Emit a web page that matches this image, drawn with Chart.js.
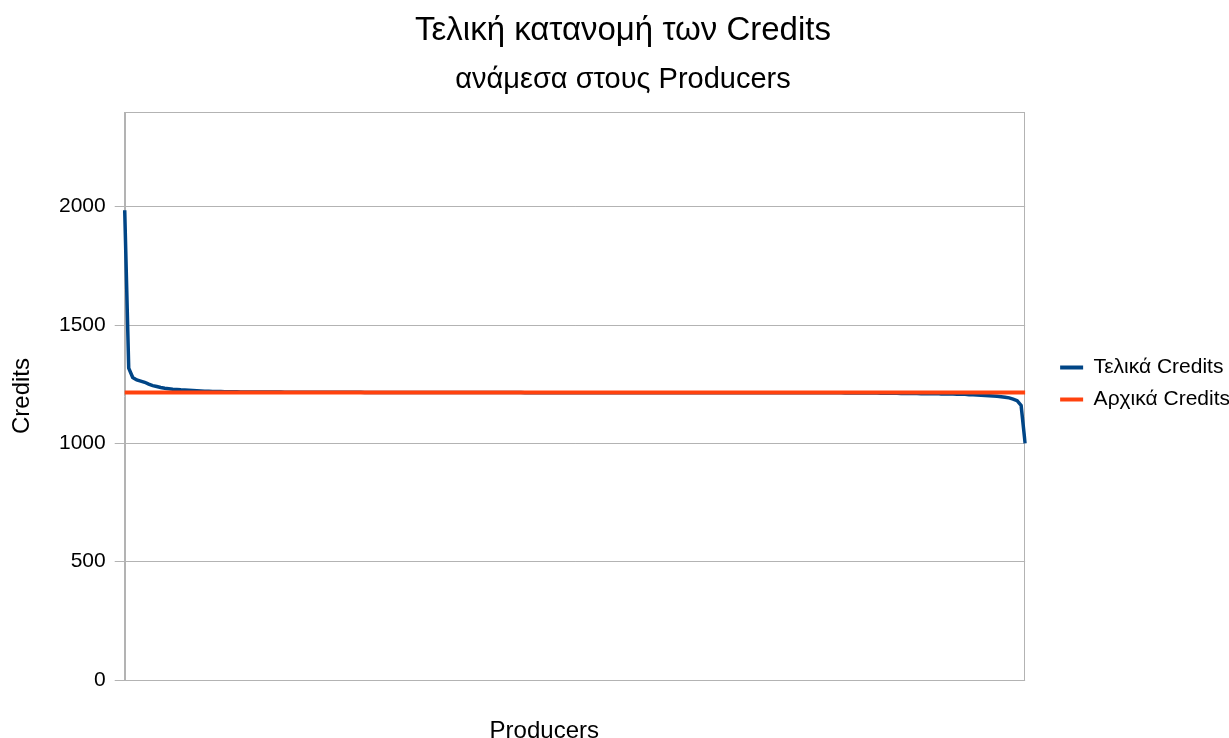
<!DOCTYPE html>
<html lang="el">
<head>
<meta charset="utf-8">
<title>Τελική κατανομή των Credits</title>
<script src="https://cdn.jsdelivr.net/npm/chart.js@4/dist/chart.umd.min.js"></script>
<style>
  html, body { margin: 0; padding: 0; background: #ffffff; }
  #wrap { width: 1229px; height: 738px; }
</style>
</head>
<body>
<div id="wrap"><canvas id="c" width="1229" height="738"></canvas></div>
<script>
// Credits held by each producer at the end of the run, sorted from richest to poorest
const finalCredits = [
  1985, 1318, 1278, 1268, 1263, 1258, 1250, 1244, 1240, 1236,
  1233, 1231, 1229, 1228, 1226, 1225, 1224, 1223, 1222, 1221,
  1220, 1220, 1219, 1219, 1219, 1218, 1218, 1218, 1218,
  1217, 1217, 1217, 1217, 1217, 1217, 1217, 1217, 1217, 1217, 1217,
  1216, 1216, 1216, 1216, 1216, 1216, 1216, 1216, 1216, 1216,
  1216, 1216, 1216, 1216, 1216, 1216, 1216, 1216, 1216, 1216,
  1215, 1215, 1215, 1215, 1215, 1215, 1215, 1215, 1215, 1215,
  1215, 1215, 1215, 1215, 1215, 1215, 1215, 1215, 1215, 1215,
  1215, 1215, 1215, 1215, 1215,
  1215, 1215, 1215, 1215, 1215, 1215, 1215, 1215, 1215, 1215,
  1215, 1215, 1215, 1215, 1215, 1214, 1214, 1214, 1214, 1214,
  1214, 1214, 1214, 1214, 1214, 1214, 1214, 1214, 1214, 1214,
  1214, 1214, 1214, 1214, 1214,
  1214, 1214, 1214, 1214, 1214, 1214, 1214, 1214, 1214, 1214,
  1214, 1214, 1214, 1214, 1214, 1214, 1214, 1214, 1214, 1214,
  1214, 1214, 1214, 1214, 1214, 1214, 1214, 1214, 1214, 1214,
  1214, 1214, 1214, 1214, 1214, 1214, 1214, 1214, 1214, 1214,
  1214, 1214, 1214, 1214, 1214, 1214, 1214, 1214, 1214, 1214,
  1214, 1214, 1214, 1214, 1214, 1214, 1214, 1214, 1214, 1214,
  1213, 1213, 1213, 1213, 1213, 1213, 1213, 1213, 1213,
  1212, 1212, 1212, 1212, 1212,
  1211, 1211, 1211, 1211, 1211,
  1210, 1210, 1210, 1210, 1210,
  1208, 1208, 1208, 1208,
  1207, 1207, 1207,
  1205, 1205,
  1204, 1203, 1202, 1201, 1200, 1199, 1197, 1195, 1192, 1187,
  1180, 1160, 1000
];

// Every producer started with the same amount
const initialCredits = 1215;

// Producer index along the horizontal axis
const producers = finalCredits.map((_, i) => i + 1);

// Values shown on the vertical axis
const yTicks = [0, 500, 1000, 1500, 2000];
const yMin = 0;
const yMax = 2400;

const xTitle = 'Producers';

const FONT = "'Liberation Sans', Arial, sans-serif";
const GRID = '#b3b3b3';

// Thin grey frame around the plot area
const plotFrame = {
  id: 'plotFrame',
  beforeDatasetsDraw(chart) {
    const { ctx, chartArea: a } = chart;
    ctx.save();
    ctx.strokeStyle = GRID;
    ctx.lineWidth = 1;
    ctx.strokeRect(Math.round(a.left) + 0.5, Math.round(a.top) + 0.5,
                   Math.round(a.right - a.left) - 1, Math.round(a.bottom - a.top));
    ctx.restore();
  }
};

// Horizontal axis caption, placed in the space kept free under the plot
const xCaption = {
  id: 'xCaption',
  afterDraw(chart) {
    const { ctx, chartArea: a } = chart;
    ctx.save();
    ctx.fillStyle = '#000';
    ctx.font = '24px ' + FONT;
    ctx.textAlign = 'center';
    ctx.textBaseline = 'middle';
    ctx.fillText(xTitle, a.left + (a.right - a.left) * 0.466, a.bottom + 51);
    ctx.restore();
  }
};

// Put the legend and the headings into place after layout
const placeBoxes = {
  id: 'placeBoxes',
  afterLayout(chart) {
    const lg = chart.legend;
    const a = chart.chartArea;
    if (lg) {
      const w = lg.width, h = lg.height;
      lg.left = a.right + 24;
      lg.right = lg.left + w;
      lg.top = a.top + 234;
      lg.bottom = lg.top + h;
    }
    chart.boxes.forEach(b => {
      if (b.options && typeof b.options.text === 'string' && b.position === 'top') {
        b.left += 15; b.right += 15;
      }
    });
  }
};

new Chart(document.getElementById('c'), {
  type: 'line',
  data: {
    labels: producers,
    datasets: [
      {
        label: 'Τελικά Credits',
        data: finalCredits,
        borderColor: '#004586',
        backgroundColor: '#004586',
        borderWidth: 3.5,
        pointRadius: 0,
        tension: 0,
        order: 1
      },
      {
        label: 'Αρχικά Credits',
        data: producers.map(() => initialCredits),
        borderColor: '#ff420e',
        backgroundColor: '#ff420e',
        borderWidth: 4,
        pointRadius: 0,
        tension: 0,
        order: 0
      }
    ]
  },
  options: {
    responsive: false,
    animation: false,
    devicePixelRatio: 1,
    events: [],
    layout: { padding: { left: 0, right: 13, top: 0, bottom: 58 } },
    plugins: {
      title: {
        display: true,
        text: 'Τελική κατανομή των Credits',
        color: '#000',
        font: { family: FONT, size: 33, weight: 'normal', lineHeight: 1 },
        padding: { top: 14, bottom: 0 }
      },
      subtitle: {
        display: true,
        text: 'ανάμεσα στους Producers',
        color: '#000',
        font: { family: FONT, size: 29, weight: 'normal', lineHeight: 1 },
        padding: { top: 18, bottom: 18 }
      },
      legend: {
        position: 'right',
        align: 'start',
        labels: {
          color: '#000',
          font: { family: FONT, size: 21 },
          boxWidth: 23,
          boxHeight: 4,
          padding: 11,
          sort: (a, b) => a.datasetIndex - b.datasetIndex,
          generateLabels(chart) {
            const items = Chart.defaults.plugins.legend.labels.generateLabels(chart);
            return items.map(it => Object.assign(it, { fillStyle: it.strokeStyle, lineWidth: 0 }));
          }
        }
      },
      tooltip: { enabled: false }
    },
    scales: {
      x: {
        type: 'category',
        offset: false,
        ticks: { display: false },
        grid: { display: false, drawTicks: false },
        border: { display: false }
      },
      y: {
        min: yMin,
        max: yMax,
        afterBuildTicks(axis) {
          axis.ticks = yTicks.map(v => ({ value: v }));
        },
        ticks: {
          color: '#000',
          font: { family: FONT, size: 21 },
          padding: 9,
          callback: v => String(v)
        },
        grid: { color: GRID, lineWidth: 1, tickLength: 10, drawTicks: true },
        border: { display: true, color: GRID },
        title: {
          display: true,
          text: 'Credits',
          color: '#000',
          font: { family: FONT, size: 24, lineHeight: 1 },
          padding: { top: 10, bottom: 16 }
        }
      }
    }
  },
  plugins: [plotFrame, xCaption, placeBoxes]
});
</script>
</body>
</html>
